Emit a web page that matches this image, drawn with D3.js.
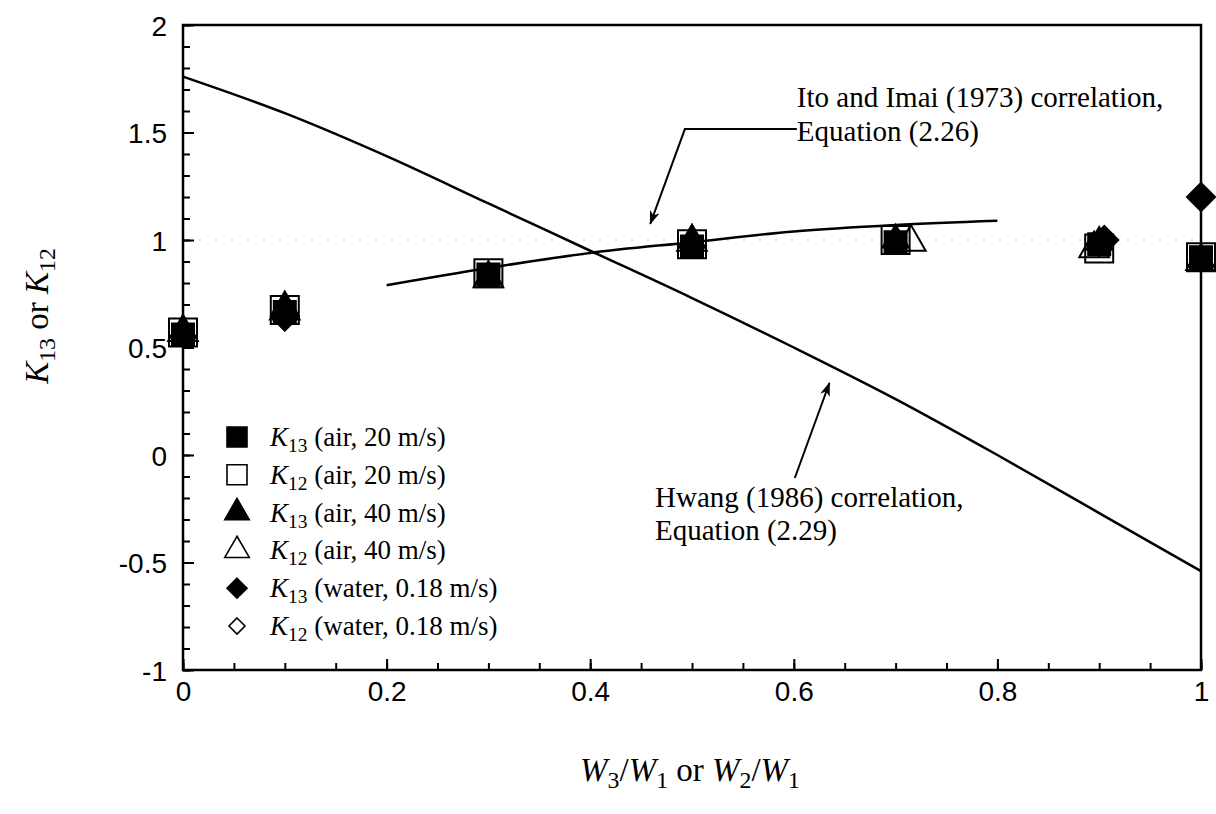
<!DOCTYPE html>
<html>
<head>
<meta charset="utf-8">
<script src="https://cdn.jsdelivr.net/npm/d3@7"></script>
<style>
  html, body { margin: 0; padding: 0; background: #fff; }
  svg { display: block; }
</style>
</head>
<body>
<svg id="chart" width="1216" height="814"></svg>
<script>
// ---------------- data ----------------
const xTickValues = [0, 0.2, 0.4, 0.6, 0.8, 1];
const xTickLabels = ["0", "0.2", "0.4", "0.6", "0.8", "1"];
const yTickValues = [2, 1.5, 1, 0.5, 0, -0.5, -1];
const yTickLabels = ["2", "1.5", "1", "0.5", "0", "-0.5", "-1"];

// Hwang (1986) correlation, Equation (2.29)
const hwangX = [0, 0.1, 0.2, 0.3, 0.4, 0.5, 0.6, 0.7, 0.8, 0.9, 1.0];
const hwangY = [1.76, 1.59, 1.39, 1.17, 0.95, 0.73, 0.50, 0.26, 0.0, -0.27, -0.54];

// Ito and Imai (1973) correlation, Equation (2.26)
const itoX = [0.2, 0.3, 0.4, 0.5, 0.6, 0.7, 0.8];
const itoY = [0.79, 0.87, 0.94, 0.99, 1.04, 1.07, 1.09];

// Experimental series
const k13Air20X = [0, 0.1, 0.3, 0.5, 0.7, 0.9, 1.0];
const k13Air20Y = [0.56, 0.665, 0.84, 0.97, 0.99, 0.98, 0.92];
const k12Air20X = [0, 0.1, 0.3, 0.5, 0.7, 0.9, 1.0];
const k12Air20Y = [0.57, 0.675, 0.845, 0.98, 1.0, 0.96, 0.92];
const k13Air40X = [0, 0.1, 0.3, 0.5, 0.7, 0.9, 1.0];
const k13Air40Y = [0.58, 0.69, 0.83, 1.0, 1.0, 0.99, 0.91];
const k12Air40X = [0, 0.1, 0.3, 0.5, 0.715, 0.895, 1.0];
const k12Air40Y = [0.57, 0.67, 0.82, 0.99, 0.99, 0.96, 0.9];
const k13WaterX = [0.1, 0.905, 1.0];
const k13WaterY = [0.645, 1.0, 1.2];
const k12WaterX = [0.1, 0.9];
const k12WaterY = [0.635, 0.98];

const legendLabels = [
  ["K", "13", " (air, 20 m/s)"],
  ["K", "12", " (air, 20 m/s)"],
  ["K", "13", " (air, 40 m/s)"],
  ["K", "12", " (air, 40 m/s)"],
  ["K", "13", " (water, 0.18 m/s)"],
  ["K", "12", " (water, 0.18 m/s)"]
];

// ---------------- layout ----------------
const svg = d3.select("#chart");
const L = 183, R = 1201, T = 25, B = 670;
const x = d3.scaleLinear().domain([0, 1]).range([L, R]);
const y = d3.scaleLinear().domain([-1, 2]).range([B, T]);

const SERIF = "'Liberation Serif', 'Times New Roman', serif";
const SANS = "'Liberation Sans', Arial, sans-serif";

// faint dotted reference at y=1 (scan artefact in the original)
svg.append("line")
  .attr("x1", x(0)).attr("x2", x(1)).attr("y1", y(1)).attr("y2", y(1))
  .attr("stroke", "#bbb").attr("stroke-width", 1).attr("stroke-dasharray", "2,14");

// axes: inward ticks
const gx = svg.append("g").attr("transform", `translate(0,${B})`);
gx.call(d3.axisBottom(x).tickValues(d3.range(0, 1.0001, 0.05)).tickSize(-7).tickFormat(""));
gx.select(".domain").remove();
const gxMaj = svg.append("g").attr("transform", `translate(0,${B})`);
gxMaj.call(d3.axisBottom(x).tickValues(xTickValues).tickSize(-11).tickPadding(0)
  .tickFormat((d, i) => xTickLabels[i]));
gxMaj.select(".domain").remove();
gxMaj.selectAll("text").attr("y", 31).attr("dy", 0)
  .attr("font-family", SANS).attr("font-size", 28).attr("fill", "#000");

const gy = svg.append("g").attr("transform", `translate(${L},0)`);
gy.call(d3.axisLeft(y).tickValues(d3.range(-1, 2.0001, 0.1)).tickSize(-7).tickFormat(""));
gy.select(".domain").remove();
const gyMaj = svg.append("g").attr("transform", `translate(${L},0)`);
gyMaj.call(d3.axisLeft(y).tickValues(yTickValues).tickSize(-11).tickPadding(0)
  .tickFormat((d, i) => yTickLabels[i]));
gyMaj.select(".domain").remove();
gyMaj.selectAll("text").attr("x", -16).attr("dy", "0.36em")
  .attr("font-family", SANS).attr("font-size", 28).attr("fill", "#000");

svg.selectAll(".tick line").attr("stroke", "#000").attr("stroke-width", 2);

// frame
svg.append("rect").attr("x", L).attr("y", T).attr("width", R - L).attr("height", B - T)
  .attr("fill", "none").attr("stroke", "#000").attr("stroke-width", 2.5);

// ---------------- curves ----------------
const lineGen = d3.line().x(d => x(d[0])).y(d => y(d[1])).curve(d3.curveMonotoneX);
svg.append("path").datum(hwangX.map((v, i) => [v, hwangY[i]]))
  .attr("d", lineGen).attr("fill", "none").attr("stroke", "#000").attr("stroke-width", 2.5);
svg.append("path").datum(itoX.map((v, i) => [v, itoY[i]]))
  .attr("d", lineGen).attr("fill", "none").attr("stroke", "#000").attr("stroke-width", 2.5);

// ---------------- markers ----------------
const squareDiamond = {
  draw(ctx, size) {
    const r = Math.sqrt(size) / 2;
    ctx.moveTo(0, -r); ctx.lineTo(r, 0); ctx.lineTo(0, r); ctx.lineTo(-r, 0); ctx.closePath();
  }
};
const sym = {
  sqOpen:  { type: d3.symbolSquare,   size: 28 * 28, fill: "none", stroke: "#000" },
  sqFill:  { type: d3.symbolSquare,   size: 22 * 22, fill: "#000", stroke: "#000" },
  triOpen: { type: d3.symbolTriangle, size: 380, fill: "none", stroke: "#000" },
  triFill: { type: d3.symbolTriangle, size: 300, fill: "#000", stroke: "#000" },
  diaOpen: { type: squareDiamond,     size: 24 * 24, fill: "none", stroke: "#000" },
  diaFill: { type: squareDiamond,     size: 28 * 28, fill: "#000", stroke: "#000" }
};

function drawSeries(xs, ys, s) {
  svg.append("g").selectAll("path").data(xs.map((v, i) => [v, ys[i]])).join("path")
    .attr("transform", d => `translate(${x(d[0])},${y(d[1])})`)
    .attr("d", d3.symbol().type(s.type).size(s.size))
    .attr("fill", s.fill).attr("stroke", s.stroke).attr("stroke-width", 2);
}
drawSeries(k12Air20X, k12Air20Y, sym.sqOpen);
drawSeries(k12Air40X, k12Air40Y, sym.triOpen);
drawSeries(k12WaterX, k12WaterY, sym.diaOpen);
drawSeries(k13Air40X, k13Air40Y, sym.triFill);
drawSeries(k13WaterX, k13WaterY, sym.diaFill);
drawSeries(k13Air20X, k13Air20Y, sym.sqFill);

// ---------------- rich text helper ----------------
function rich(g, parts, size) {
  const t = g.append("text").attr("font-family", SERIF).attr("font-size", size).attr("fill", "#000");
  let shifted = false;
  parts.forEach(([txt, kind]) => {
    const ts = t.append("tspan").text(txt);
    if (kind === "i") ts.attr("font-style", "italic");
    if (kind === "s") {
      ts.attr("font-size", size * 0.72).attr("dy", size * 0.22);
      shifted = true;
    } else if (shifted) {
      ts.attr("dy", -size * 0.22);
      shifted = false;
    }
  });
  return t;
}

// ---------------- legend ----------------
const legSyms = [sym.sqFill, sym.sqOpen, sym.triFill, sym.triOpen, sym.diaFill, sym.diaOpen];
const legSize = [20 * 20, 20 * 20, 260, 260, 20 * 20, 16 * 16];
const legY0 = 437, legDy = 37.8;
legendLabels.forEach((lab, i) => {
  const cy = legY0 + i * legDy;
  const s = legSyms[i];
  svg.append("path").attr("transform", `translate(237,${cy})`)
    .attr("d", d3.symbol().type(s.type).size(legSize[i]))
    .attr("fill", s.fill).attr("stroke", "#000").attr("stroke-width", 1.6);
  rich(svg.append("g").attr("transform", `translate(270,${cy + 9})`),
    [[lab[0], "i"], [lab[1], "s"], [lab[2], ""]], 27);
});

// ---------------- annotations ----------------
const defs = svg.append("defs");
defs.append("marker").attr("id", "arr").attr("viewBox", "0 -5 14 10")
  .attr("refX", 13).attr("refY", 0).attr("markerWidth", 14).attr("markerHeight", 10)
  .attr("markerUnits", "userSpaceOnUse").attr("orient", "auto")
  .append("path").attr("d", "M0,-5L14,0L0,5L4,0Z").attr("fill", "#000");

const itoLeader = [[0.603, 1.516], [0.493, 1.516], [0.459, 1.075]];
svg.append("path")
  .attr("d", d3.line().x(d => x(d[0])).y(d => y(d[1]))(itoLeader))
  .attr("fill", "none").attr("stroke", "#000").attr("stroke-width", 2).attr("marker-end", "url(#arr)");
svg.append("text").attr("x", x(0.603)).attr("y", 107).attr("font-family", SERIF).attr("font-size", 29)
  .text("Ito and Imai (1973) correlation,");
svg.append("text").attr("x", x(0.603)).attr("y", 141).attr("font-family", SERIF).attr("font-size", 29)
  .text("Equation (2.26)");

const hwLeader = [[0.601, -0.107], [0.635, 0.335]];
svg.append("path")
  .attr("d", d3.line().x(d => x(d[0])).y(d => y(d[1]))(hwLeader))
  .attr("fill", "none").attr("stroke", "#000").attr("stroke-width", 2).attr("marker-end", "url(#arr)");
svg.append("text").attr("x", 655).attr("y", 507).attr("font-family", SERIF).attr("font-size", 29)
  .text("Hwang (1986) correlation,");
svg.append("text").attr("x", 655).attr("y", 540).attr("font-family", SERIF).attr("font-size", 29)
  .text("Equation (2.29)");

// ---------------- axis titles ----------------
const xt = rich(svg.append("g").attr("transform", `translate(690,781)`),
  [["W", "i"], ["3", "s"], ["/", ""], ["W", "i"], ["1", "s"], [" or ", ""],
   ["W", "i"], ["2", "s"], ["/", ""], ["W", "i"], ["1", "s"]], 33);
xt.attr("text-anchor", "middle");

const yt = rich(svg.append("g").attr("transform", `translate(48,316) rotate(-90)`),
  [["K", "i"], ["13", "s"], [" or ", ""], ["K", "i"], ["12", "s"]], 33);
yt.attr("text-anchor", "middle");
</script>
</body>
</html>
